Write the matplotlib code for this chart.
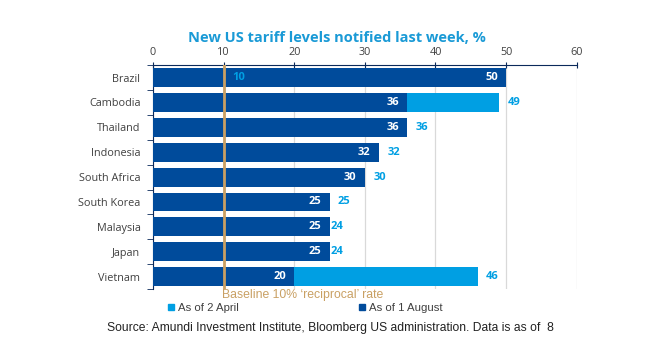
import matplotlib
matplotlib.use("Agg")
import matplotlib.pyplot as plt
from matplotlib.lines import Line2D

countries = ["Brazil", "Cambodia", "Thailand", "Indonesia", "South Africa",
             "South Korea", "Malaysia", "Japan", "Vietnam"]
april = [10, 49, 36, 32, 30, 25, 24, 24, 46]
august = [50, 36, 36, 32, 30, 25, 25, 25, 20]
baseline = 10
xticks = [0, 10, 20, 30, 40, 50, 60]

dark = "#004b9b"
light = "#009fe3"
gold = "#c9a063"
navy = "#0b2a5b"
grey_txt = "#404040"

plt.rcParams["font.family"] = ["Open Sans", "DejaVu Sans"]

fig = plt.figure(figsize=(6.48, 3.64), dpi=100)
ax = fig.add_axes([0.236, 0.206, 0.654, 0.615])

y = list(range(len(countries)))
ax.barh(y, april, height=0.76, color=light, zorder=2)
ax.barh(y, august, height=0.76, color=dark, zorder=3)

# value labels
for yi, a, b in zip(y, april, august):
    ax.annotate(str(b), (b, yi), xytext=(-6, 0), textcoords="offset points",
                ha="right", va="center", color="white", fontsize=8,
                fontweight="bold", zorder=5)
    ax.annotate(str(a), (a, yi), xytext=(6, 0), textcoords="offset points",
                ha="left", va="center", color=light, fontsize=8,
                fontweight="bold", zorder=5)

ax.axvline(baseline, color=gold, lw=2, zorder=4)

ax.set_xlim(0, 60)
ax.set_ylim(len(countries) - 0.5, -0.5)
ax.set_xticks(xticks)
ax.xaxis.tick_top()
ax.tick_params(axis="x", direction="inout", length=5, color=navy,
               labelsize=7.8, labelcolor=grey_txt, pad=3)
ax.set_yticks(y)
ax.set_yticklabels(countries)
ax.set_yticks([i + 0.5 for i in range(-1, len(countries))], minor=True)
ax.tick_params(axis="y", which="major", length=0, labelsize=7.8,
               labelcolor=grey_txt, pad=9)
ax.tick_params(axis="y", which="minor", length=4, color=navy, direction="out")
ax.grid(axis="x", color="#d9d9d9", lw=0.9, zorder=0)
for s in ["right", "bottom"]:
    ax.spines[s].set_visible(False)
ax.spines["top"].set_color(navy)
ax.spines["left"].set_color(navy)

fig.text(0.52, 0.895, "New US tariff levels notified last week, %", ha="center",
         va="center", fontsize=10.5, fontweight="bold", color="#1a9ad6")

fig.text(222 / 648, 1 - 295 / 364, "Baseline 10% \u2018reciprocal\u2019 rate",
         ha="left", va="center", fontsize=8.8, color=gold, family="Liberation Sans")

handles = [Line2D([], [], ls="", marker="s", ms=5, color=light),
           Line2D([], [], ls="", marker="s", ms=5, color=dark)]
fig.legend(handles, ["As of 2 April", "As of 1 August"], ncol=2,
           loc="center left", bbox_to_anchor=(0.243, 1 - 308 / 364), frameon=False,
           handlelength=0.6, handletextpad=0.3, columnspacing=10.5,
           prop={"family": "Liberation Sans", "size": 8.2}, labelcolor=grey_txt)

fig.text(107 / 648, 1 - 328 / 364,
         "Source: Amundi Investment Institute, Bloomberg US administration. Data is as of  8",
         ha="left", va="center", fontsize=8.7, color="#222222", family="Liberation Sans")

fig.savefig("out.png", dpi=100)
